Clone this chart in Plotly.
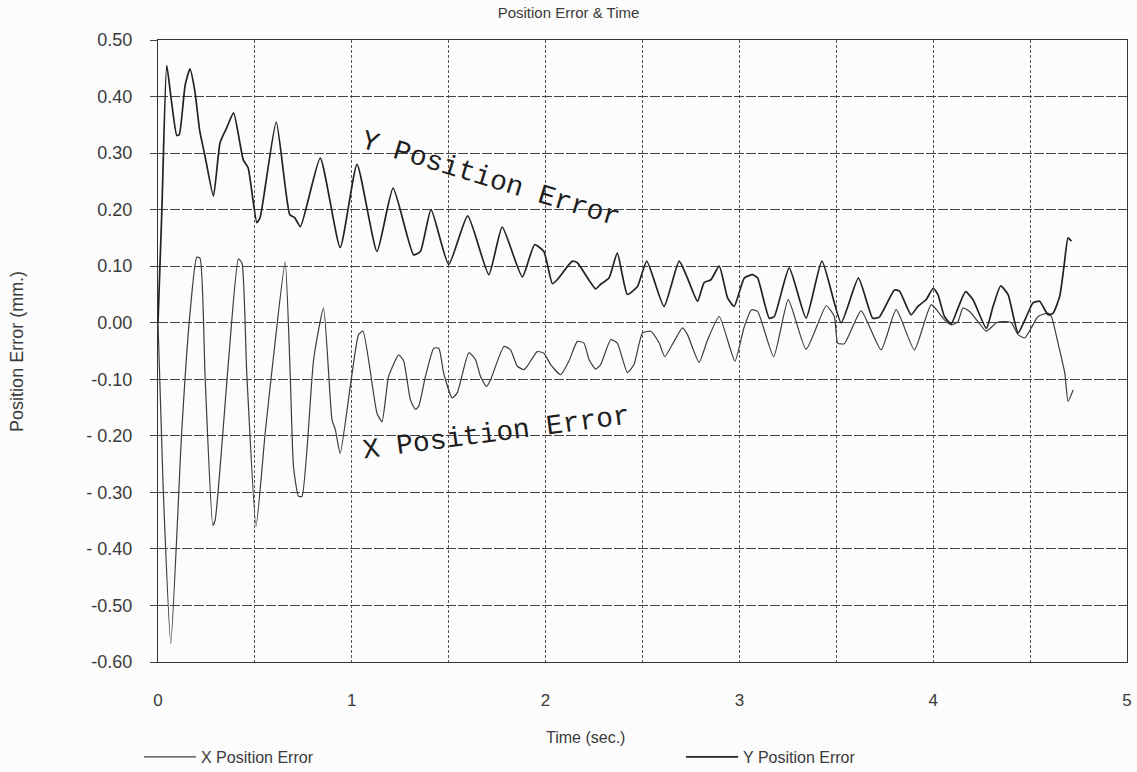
import plotly.graph_objects as go

# ---- data ----
y_time = [0.0, 0.02, 0.045, 0.07, 0.097, 0.11, 0.14, 0.165, 0.19, 0.215, 0.243, 0.286,
          0.32, 0.355, 0.39, 0.44, 0.465, 0.51, 0.527, 0.61, 0.68, 0.705, 0.735, 0.837,
          0.94, 1.027, 1.13, 1.213, 1.319, 1.354, 1.409, 1.50, 1.598, 1.707, 1.776, 1.88,
          1.943, 1.991, 2.035, 2.06, 2.138, 2.164, 2.258, 2.284, 2.327, 2.37, 2.422, 2.474,
          2.522, 2.611, 2.689, 2.732, 2.784, 2.818, 2.853, 2.896, 2.939, 2.973, 3.025, 3.068,
          3.094, 3.154, 3.18, 3.257, 3.344, 3.426, 3.525, 3.614, 3.688, 3.722, 3.80, 3.826,
          3.886, 3.921, 3.964, 4.0, 4.024, 4.058, 4.093, 4.128, 4.167, 4.205, 4.274, 4.309,
          4.348, 4.386, 4.438, 4.481, 4.515, 4.549, 4.593, 4.619, 4.653, 4.675, 4.696, 4.713]
y_err = [0.0, 0.20, 0.455, 0.39, 0.331, 0.333, 0.42, 0.449, 0.41, 0.34, 0.294, 0.224,
         0.318, 0.345, 0.371, 0.288, 0.274, 0.177, 0.186, 0.355, 0.191, 0.186, 0.170, 0.291,
         0.133, 0.28, 0.126, 0.238, 0.12, 0.126, 0.20, 0.103, 0.189, 0.085, 0.169, 0.081,
         0.138, 0.126, 0.069, 0.076, 0.109, 0.106, 0.06, 0.068, 0.079, 0.123, 0.05, 0.064,
         0.109, 0.029, 0.109, 0.079, 0.038, 0.071, 0.076, 0.10, 0.044, 0.029, 0.079, 0.085,
         0.079, 0.008, 0.011, 0.097, 0.008, 0.109, 0.0, 0.079, 0.008, 0.01, 0.058, 0.056,
         0.014, 0.029, 0.041, 0.061, 0.05, 0.011, -0.002, 0.026, 0.055, 0.041, -0.01, 0.029,
         0.065, 0.05, -0.018, 0.011, 0.035, 0.038, 0.014, 0.017, 0.047, 0.10, 0.15, 0.144]

x_time = [0.0, 0.027, 0.066, 0.122, 0.162, 0.2, 0.217, 0.243, 0.283, 0.295, 0.363, 0.415,
          0.433, 0.458, 0.506, 0.553, 0.596, 0.656, 0.682, 0.699, 0.725, 0.743, 0.803, 0.854,
          0.898, 0.915, 0.94, 0.992, 1.035, 1.058, 1.13, 1.156, 1.19, 1.242, 1.268, 1.302,
          1.328, 1.345, 1.38, 1.423, 1.449, 1.474, 1.518, 1.544, 1.604, 1.638, 1.664, 1.695,
          1.716, 1.785, 1.819, 1.854, 1.888, 1.905, 1.957, 1.991, 2.026, 2.078, 2.12, 2.164,
          2.198, 2.224, 2.258, 2.284, 2.336, 2.37, 2.422, 2.456, 2.50, 2.543, 2.586, 2.615,
          2.663, 2.706, 2.732, 2.792, 2.836, 2.896, 2.977, 3.025, 3.063, 3.094, 3.177, 3.252,
          3.344, 3.448, 3.49, 3.507, 3.542, 3.628, 3.731, 3.809, 3.903, 3.99, 4.058, 4.093,
          4.128, 4.153, 4.188, 4.231, 4.274, 4.326, 4.36, 4.403, 4.438, 4.472, 4.506, 4.541,
          4.593, 4.61, 4.644, 4.679, 4.696, 4.722]
x_err = [0.0, -0.296, -0.567, -0.195, 0.005, 0.116, 0.114, -0.095, -0.358, -0.349, -0.071, 0.113,
         0.106, -0.089, -0.36, -0.195, -0.06, 0.107, -0.089, -0.254, -0.307, -0.307, -0.065, 0.026,
         -0.172, -0.189, -0.231, -0.113, -0.021, -0.015, -0.16, -0.175, -0.095, -0.057, -0.068, -0.136,
         -0.153, -0.148, -0.095, -0.045, -0.045, -0.089, -0.133, -0.124, -0.053, -0.065, -0.095, -0.113,
         -0.101, -0.042, -0.048, -0.077, -0.083, -0.077, -0.051, -0.054, -0.074, -0.092, -0.068, -0.033,
         -0.036, -0.065, -0.082, -0.074, -0.03, -0.036, -0.088, -0.074, -0.018, -0.015, -0.036, -0.06,
         -0.033, -0.009, -0.021, -0.07, -0.03, 0.011, -0.068, -0.007, 0.023, 0.02, -0.06, 0.041,
         -0.047, 0.03, 0.011, -0.036, -0.037, 0.021, -0.048, 0.023, -0.048, 0.032, 0.005, -0.004,
         0.002, 0.026, 0.02, 0.002, -0.015, 0.0, 0.002, 0.0, -0.021, -0.027, -0.009, 0.011,
         0.017, 0.011, -0.036, -0.089, -0.139, -0.119]

y_ticks = [0.5, 0.4, 0.3, 0.2, 0.1, 0.0, -0.1, -0.2, -0.3, -0.4, -0.5, -0.6]
y_tick_text = ["0.50", "0.40", "0.30", "0.20", "0.10", "0.00",
               "-0.10", "- 0.20", "- 0.30", "- 0.40", "-0.50", "-0.60"]
x_ticks = [0, 1, 2, 3, 4, 5]

FONT = "Liberation Sans, Arial, sans-serif"
TXT = "#3a3a3a"

fig = go.Figure()
fig.add_trace(go.Scatter(x=x_time, y=x_err, mode="lines", name="X Position Error",
                         legend="legend",
                         line=dict(color="#3c3c3c", width=1.2, shape="spline", smoothing=0.5)))
fig.add_trace(go.Scatter(x=y_time, y=y_err, mode="lines", name="Y Position Error",
                         legend="legend2",
                         line=dict(color="#222222", width=1.7, shape="spline", smoothing=0.5)))

fig.add_annotation(x=1.716, y=0.253, xref="x", yref="y", text="Y Position Error",
                   showarrow=False, textangle=17,
                   font=dict(family="Liberation Mono, Courier New, monospace", size=28, color="#1e1e1e"))
fig.add_annotation(x=1.747, y=-0.196, xref="x", yref="y", text="X Position Error",
                   showarrow=False, textangle=-7.5,
                   font=dict(family="Liberation Mono, Courier New, monospace", size=28, color="#1e1e1e"))

fig.add_annotation(x=0.4407, y=-0.138, xref="paper", yref="paper", text="Time (sec.)",
                   showarrow=False, font=dict(family=FONT, size=16, color=TXT))
fig.add_annotation(x=-0.158, y=0.5, xref="paper", yref="paper", text="Position Error (mm.)",
                   showarrow=False, textangle=-90, font=dict(family=FONT, size=18, color=TXT))

leg_common = dict(orientation="h", xref="container", yref="container", y=0.0194,
                  xanchor="left", yanchor="middle", bgcolor="rgba(0,0,0,0)",
                  itemwidth=52, font=dict(family=FONT, size=16, color=TXT))

fig.update_layout(
    width=1137, height=772,
    margin=dict(l=158, r=10, t=40, b=110, autoexpand=False),
    paper_bgcolor="#fcfcfc", plot_bgcolor="#fcfcfc",
    title=dict(text="Position Error & Time", x=0.5, xref="container", y=0.983,
               yref="container", yanchor="middle", xanchor="center",
               font=dict(family=FONT, size=15, color=TXT)),
    showlegend=True,
    legend=dict(x=0.1222, **leg_common),
    legend2=dict(x=0.599, **leg_common),
    xaxis=dict(range=[0, 5], showgrid=True, automargin=False,
               gridcolor="#555", gridwidth=1, griddash="3px,2px",
               showline=True, linecolor="#333", linewidth=1.2, mirror=True,
               zeroline=False, ticks="", ticklabelstandoff=22,
               tickfont=dict(family=FONT, size=17, color=TXT)),
    yaxis=dict(range=[-0.6, 0.5], tickvals=y_ticks, ticktext=y_tick_text, automargin=False,
               showgrid=True, gridcolor="#444", gridwidth=1, griddash="10px,2px",
               showline=True, linecolor="#333", linewidth=1.2, mirror=True,
               zeroline=False, ticks="outside", ticklen=7, tickcolor="#444",
               ticklabelstandoff=14,
               tickfont=dict(family=FONT, size=18, color=TXT)),
)
# major ticks at whole seconds, vertical grid every 0.5 s
fig.update_xaxes(tickmode="array", tickvals=x_ticks)
fig.update_xaxes(minor=dict(dtick=0.5, showgrid=True, gridcolor="#555", griddash="3px,2px"))

fig.write_html("out.html")
